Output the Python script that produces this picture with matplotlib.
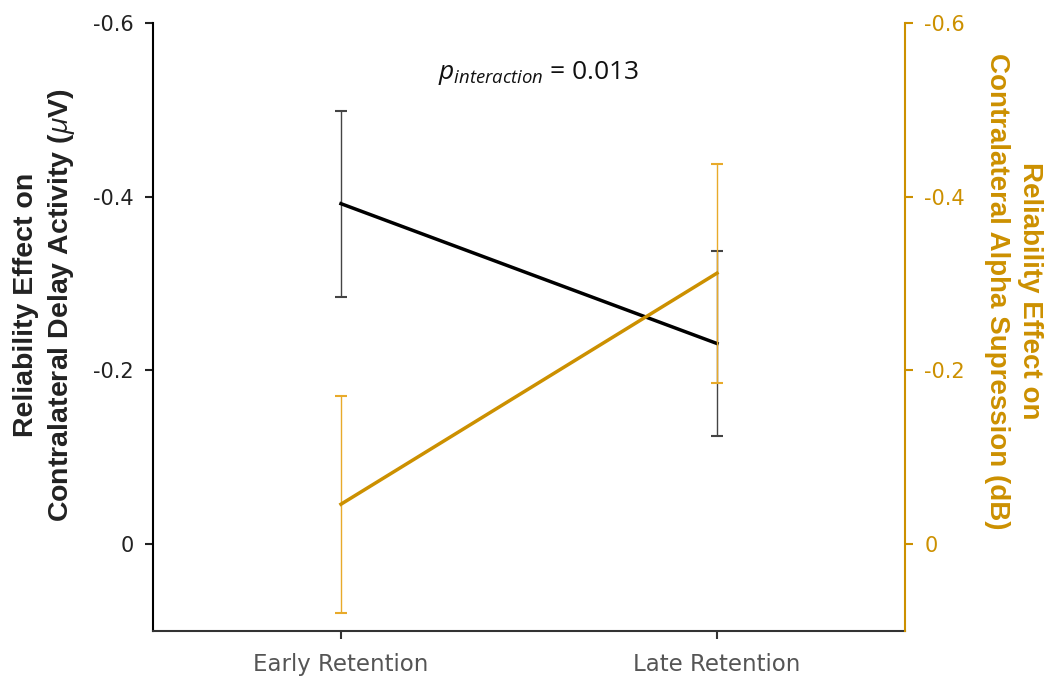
import numpy as np
import matplotlib.pyplot as plt

plt.rcParams['font.family'] = ['Liberation Sans', 'DejaVu Sans']
plt.rcParams['mathtext.fontset'] = 'custom'
plt.rcParams['mathtext.rm'] = 'Open Sans'
plt.rcParams['mathtext.it'] = 'Open Sans:italic'

# Reliability effects per retention window (means and error half-widths)
phases = ['Early Retention', 'Late Retention']
cda_mean = [-0.392, -0.231]
cda_err = [0.107, 0.107]
alpha_mean = [-0.046, -0.312]
alpha_err = [0.125, 0.126]
yticks = [-0.6, -0.4, -0.2, 0]
p_value = 0.013

gold = '#cc9000'
gold_err = '#e8aa2a'
gold_cap = '#f5c400'

x = np.arange(1, len(phases) + 1)

fig = plt.figure(figsize=(10.5, 6.81), dpi=100)
ax = fig.add_axes([0.1457, 0.0734, 0.7162, 0.8928])
ax2 = ax.twinx()

# CDA on the left axis
eb = ax.errorbar(x, cda_mean, yerr=cda_err, color='black', lw=2.5,
                 ecolor='#444444', elinewidth=1.0, capsize=4, capthick=1.5, zorder=3)

# alpha suppression on the right axis
eb2 = ax2.errorbar(x, alpha_mean, yerr=alpha_err, color=gold, lw=2.5,
                   ecolor=gold_err, elinewidth=1.0, capsize=4, capthick=1.5, zorder=3)
for cap in eb2[1]:
    cap.set_color(gold_cap)

for a in (ax, ax2):
    a.set_xlim(0.5, 2.5)
    a.set_ylim(0.1, -0.6)
    a.set_yticks(yticks)
    a.set_yticklabels(['-0.6', '-0.4', '-0.2', '0'], family='DejaVu Sans')
    a.spines['top'].set_visible(False)

ax.spines['right'].set_visible(False)
ax2.spines['left'].set_visible(False)
ax2.spines['bottom'].set_visible(False)
ax.spines['left'].set_linewidth(1.5)
ax.spines['bottom'].set_linewidth(1.5)
ax.spines['bottom'].set_color('#333333')
ax2.spines['right'].set_linewidth(1.5)
ax2.spines['right'].set_color(gold)

ax.set_xticks(x)
ax.set_xticklabels(phases, color='#555555', fontsize=16.5, family='DejaVu Sans')
ax.tick_params(axis='x', length=6, width=1.5, color='#333333', pad=10)
ax.tick_params(axis='y', length=6, width=1.5, labelsize=15, colors='#222222', pad=8)
ax2.tick_params(axis='y', length=6, width=1.5, labelsize=15, colors=gold, pad=8)

# axis titles placed in figure coordinates
fig.text(0.043, 0.552, 'Reliability Effect on\nContralateral Delay Activity ($\\mu$V)',
         rotation=90, ha='center', va='center', multialignment='center',
         fontsize=20.5, fontweight='bold', color='#222222', linespacing=1.32)
fig.text(0.965, 0.573, 'Reliability Effect on\nContralateral Alpha Supression (dB)',
         rotation=270, ha='center', va='center', multialignment='center',
         fontsize=20, fontweight='bold', color=gold, linespacing=1.35)

ax.text(1.525, -0.542, '$p_{interaction}$ = %.3f' % p_value, fontsize=19,
        family='Open Sans', ha='center', va='center', color='#111111')

fig.savefig('out.png', dpi=100)
